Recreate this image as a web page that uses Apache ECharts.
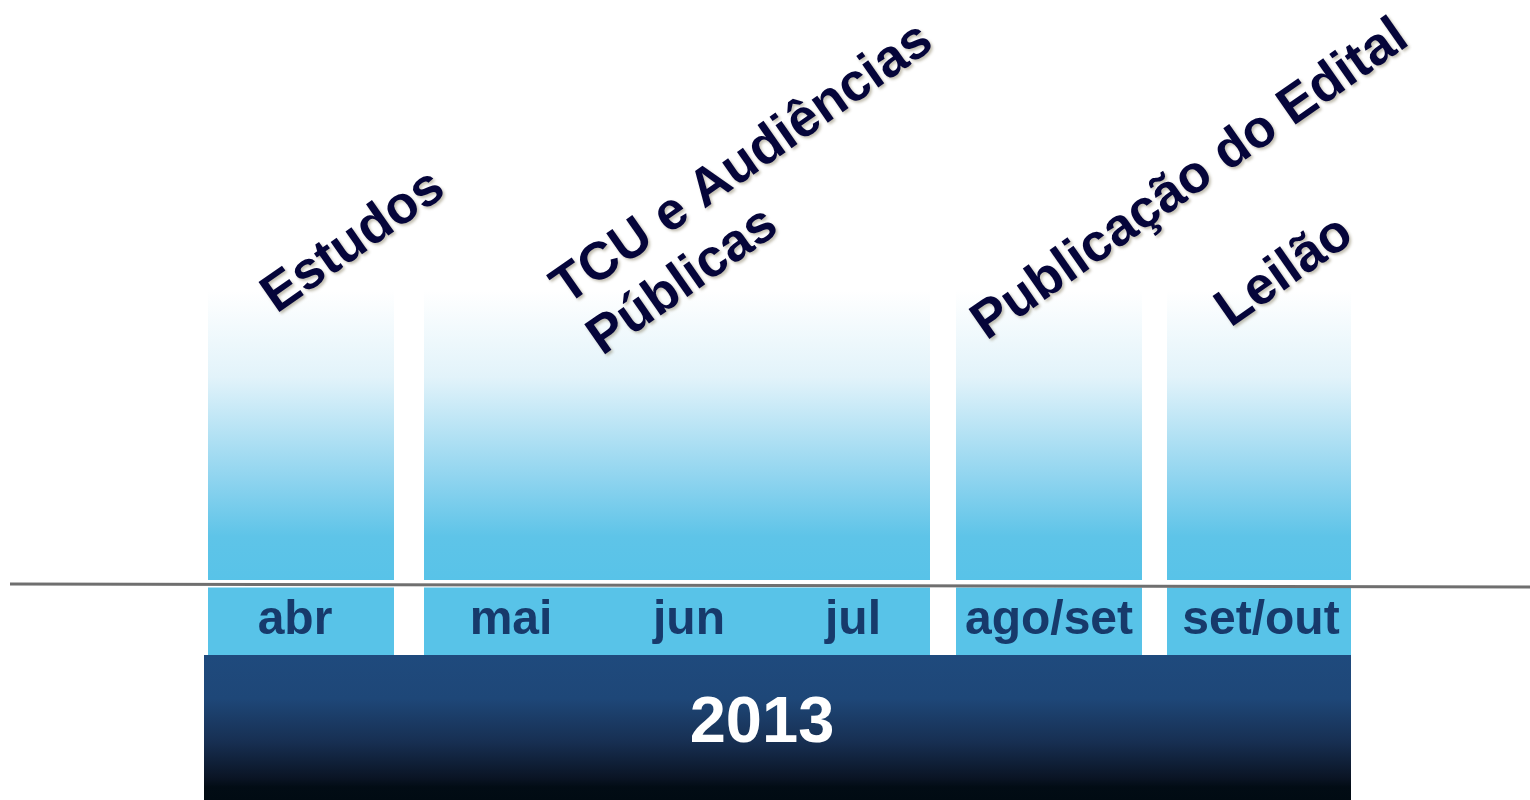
<!DOCTYPE html>
<html lang="pt">
<head>
    <meta charset="UTF-8">
    <title>Cronograma 2013</title>
    <script src="https://cdn.jsdelivr.net/npm/echarts@6/dist/echarts.min.js"></script>
    <style>
        html, body { margin: 0; padding: 0; background: #fff; }
        #container { width: 1530px; height: 800px; }
    </style>
</head>
<body>
<div id="container"></div>
<script>
    // fases do cronograma (eixo x em unidades arbitrarias, 0..153)
    var phaseNames = ['Estudos', 'TCU e Audiências\nPúblicas', 'Publicação do Edital', 'Leilão'];
    var phaseStart = [20.8, 42.4, 95.6, 116.7];
    var phaseEnd = [39.4, 93.0, 114.2, 135.1];
    var monthLabels = ['abr', 'mai', 'jun', 'jul', 'ago/set', 'set/out'];
    var monthPos = [29.5, 51.1, 68.9, 85.3, 104.9, 126.1];
    var yearLabel = '2013';
    var yearSpan = [20.4, 135.1];
    var timeline = [[1, 21.6], [153, 21.3]];

    // layout (nao sao dados)
    var yBarTop = 51.0, yBarBottom = 22.0, yBoxTop = 21.25, yBandTop = 14.5, yMonthText = 17.9, yYearText = 7.6;
    var yearTextX = 76.2;
    var labelAnchor = [[26.8, 49.8], [57.6, 48.1], [97.8, 47.1], [122.2, 48.4]];
    var labelRotation = 35 * Math.PI / 180;
    var boxColor = '#58c3e8';
    var fontFamily = '"Liberation Sans", Arial, sans-serif';

    var dom = document.getElementById('container');
    var myChart = echarts.init(dom);

    function barGradient() {
        return new echarts.graphic.LinearGradient(0, 0, 0, 1, [
            { offset: 0, color: '#ffffff' },
            { offset: 0.3, color: '#e2f3fa' },
            { offset: 0.65, color: '#8fd4ef' },
            { offset: 0.85, color: '#5ec4e8' },
            { offset: 1, color: boxColor }
        ]);
    }

    function renderPhase(params, api) {
        var i = params.dataIndex;
        var tl = api.coord([api.value(0), yBarTop]);
        var br = api.coord([api.value(1), yBarBottom]);
        var bt = api.coord([api.value(0), yBoxTop]);
        var bb = api.coord([api.value(1), yBandTop]);
        var la = api.coord(labelAnchor[i]);
        return {
            type: 'group',
            children: [
                {
                    type: 'rect',
                    shape: { x: tl[0], y: tl[1], width: br[0] - tl[0], height: br[1] - tl[1] },
                    style: { fill: barGradient() }
                },
                {
                    type: 'rect',
                    shape: { x: bt[0], y: bt[1], width: bb[0] - bt[0], height: bb[1] - bt[1] },
                    style: { fill: boxColor }
                },
                {
                    type: 'text',
                    x: la[0],
                    y: la[1],
                    rotation: labelRotation,
                    z2: 10,
                    style: {
                        text: phaseNames[i],
                        x: 0,
                        y: 0,
                        align: 'left',
                        verticalAlign: 'middle',
                        fontSize: 53,
                        fontWeight: 'bold',
                        fontFamily: fontFamily,
                        lineHeight: 62,
                        fill: '#05053a',
                        textShadowColor: 'rgba(120,110,80,0.45)',
                        textShadowBlur: 3,
                        textShadowOffsetX: 2,
                        textShadowOffsetY: 2
                    }
                }
            ]
        };
    }

    function renderMonth(params, api) {
        var p = api.coord([api.value(0), yMonthText]);
        return {
            type: 'text',
            x: p[0],
            y: p[1],
            style: {
                text: monthLabels[params.dataIndex],
                align: 'center',
                verticalAlign: 'middle',
                fontSize: 48,
                fontWeight: 'bold',
                fontFamily: fontFamily,
                fill: '#173a6b'
            }
        };
    }

    function renderYear(params, api) {
        var tl = api.coord([api.value(0), yBandTop]);
        var br = api.coord([api.value(1), 0]);
        var t = api.coord([yearTextX, yYearText]);
        return {
            type: 'group',
            children: [
                {
                    type: 'rect',
                    shape: { x: tl[0], y: tl[1], width: br[0] - tl[0], height: br[1] - tl[1] },
                    style: {
                        fill: new echarts.graphic.LinearGradient(0, 0, 0, 1, [
                            { offset: 0, color: '#1f4a7d' },
                            { offset: 0.3, color: '#1e4778' },
                            { offset: 0.6, color: '#172f52' },
                            { offset: 0.85, color: '#0a1424' },
                            { offset: 0.91, color: '#020c15' },
                            { offset: 1, color: '#010b13' }
                        ])
                    }
                },
                {
                    type: 'text',
                    x: t[0],
                    y: t[1],
                    style: {
                        text: yearLabel,
                        align: 'center',
                        verticalAlign: 'middle',
                        fontSize: 65,
                        fontWeight: 'bold',
                        fontFamily: fontFamily,
                        fill: '#ffffff'
                    }
                }
            ]
        };
    }

    var phaseData = phaseNames.map(function (n, i) { return [phaseStart[i], phaseEnd[i]]; });
    var monthData = monthPos.map(function (x) { return [x]; });

    var option = {
        animation: false,
        grid: { left: 0, right: 0, top: 0, bottom: 0 },
        xAxis: { type: 'value', min: 0, max: 153, show: false },
        yAxis: { type: 'value', min: 0, max: 80, show: false },
        series: [
            {
                type: 'custom',
                renderItem: renderPhase,
                data: phaseData,
                encode: { x: [0, 1] },
                clip: false
            },
            {
                type: 'custom',
                renderItem: renderYear,
                data: [[yearSpan[0], yearSpan[1]]],
                encode: { x: [0, 1] },
                clip: false
            },
            {
                type: 'custom',
                renderItem: renderMonth,
                data: monthData,
                encode: { x: 0 },
                z: 5
            },
            {
                type: 'line',
                data: timeline,
                symbol: 'none',
                z: 6,
                lineStyle: { color: '#6f6f6f', width: 3 }
            }
        ]
    };
    myChart.setOption(option, true);
</script>
</body>
</html>
